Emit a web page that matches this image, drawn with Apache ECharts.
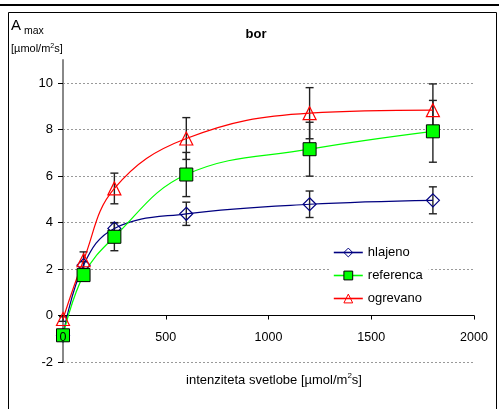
<!DOCTYPE html>
<html>
<head>
<meta charset="utf-8">
<script src="https://cdn.jsdelivr.net/npm/echarts@6/dist/echarts.min.js"></script>
<style>
  html, body { margin: 0; padding: 0; background: #fff; }
  #main { width: 499px; height: 409px; }
</style>
</head>
<body>
<div id="main"></div>
<script>
const FONT = "'Liberation Sans', Arial, sans-serif";

// light intensity (x) and the three treatments
const xValues = [0, 100, 250, 600, 1200, 1800];
const hlajeno = [-0.85, 2.17, 3.75, 4.38, 4.79, 4.96];
const hlajenoErr = [0, 0.15, 0.25, 0.5, 0.57, 0.58];
const referenca = [-0.85, 1.74, 3.39, 6.07, 7.16, 7.93];
const referencaErr = [0, 0.25, 0.6, 0.95, 1.16, 1.33];
const ogrevano = [-0.15, 2.38, 5.47, 7.62, 8.71, 8.84];
const ogrevanoErr = [0.1, 0.36, 0.66, 0.9, 1.1, 1.13];
const yTicks = [-2, 0, 2, 4, 6, 8, 10];
const xTicks = [0, 500, 1000, 1500, 2000];

const chart = echarts.init(document.getElementById("main"));

const pts = (vals) => xValues.map((x, i) => [x, vals[i]]);
const errs = (vals, e) => xValues.map((x, i) => [x, vals[i] - e[i], vals[i] + e[i]]);

function renderErr(params, api) {
  const x = api.value(0);
  const top = api.coord([x, api.value(2)]);
  const bot = api.coord([x, api.value(1)]);
  const st = { stroke: "#222", lineWidth: 1.4 };
  return {
    type: "group",
    children: [
      { type: "line", shape: { x1: top[0], y1: top[1], x2: bot[0], y2: bot[1] }, style: st },
      { type: "line", shape: { x1: top[0] - 4, y1: top[1], x2: top[0] + 4, y2: top[1] }, style: st },
      { type: "line", shape: { x1: bot[0] - 4, y1: bot[1], x2: bot[0] + 4, y2: bot[1] }, style: st },
    ],
  };
}

// x labels sit under the zero line, not under the grid bottom
function renderXLabel(params, api) {
  const v = api.value(0);
  const c = api.coord([v, 0]);
  return {
    type: "text",
    x: c[0],
    y: c[1] + 22,
    style: { text: String(v), align: "center", verticalAlign: "middle", fontFamily: FONT, fontSize: 12.5, fill: "#000" },
  };
}

const errSeries = (name, vals, e) => ({
  name: name + "_err",
  type: "custom",
  renderItem: renderErr,
  data: errs(vals, e),
  encode: { x: 0, y: [1, 2] },
  z: 1,
  silent: true,
});

const option = {
  animation: false,
  backgroundColor: "#fff",
  textStyle: { fontFamily: FONT },
  grid: { left: 63, right: 25, top: 60, bottom: 47, outerBoundsMode: "none" },
  legend: {
    data: ["hlajeno", "referenca", "ogrevano"],
    orient: "vertical",
    left: 329,
    top: 239,
    padding: [6, 6, 6, 4],
    backgroundColor: "#fff",
    itemWidth: 29,
    itemHeight: 11,
    itemGap: 8,
    lineStyle: { width: 1.6 },
    itemStyle: { borderWidth: 1 },
    textStyle: { fontFamily: FONT, fontSize: 13, color: "#000", lineHeight: 15 },
  },
  xAxis: {
    type: "value",
    min: 0,
    max: 2000,
    interval: 500,
    axisLine: { onZero: true, lineStyle: { color: "#000", width: 1 } },
    axisTick: { length: 4, lineStyle: { color: "#000" } },
    axisLabel: { show: false },
    splitLine: { show: false },
  },
  yAxis: {
    type: "value",
    min: -2,
    max: 11,
    interval: 2,
    axisLine: { show: true, onZero: false, lineStyle: { color: "#888", width: 2 } },
    axisTick: { show: true, length: 5, customValues: yTicks, lineStyle: { color: "#000", width: 1 } },
    axisLabel: { margin: 10, fontSize: 13, color: "#000", fontFamily: FONT, customValues: yTicks },
    splitLine: { show: true, lineStyle: { color: "#999", type: [2, 2], width: 1 } },
  },
  series: [
    errSeries("hlajeno", hlajeno, hlajenoErr),
    errSeries("referenca", referenca, referencaErr),
    errSeries("ogrevano", ogrevano, ogrevanoErr),
    {
      name: "hlajeno",
      type: "line",
      data: pts(hlajeno),
      smooth: 0.4,
      clip: false,
      symbol: "diamond",
      symbolSize: 13,
      color: "#000080",
      lineStyle: { color: "#000080", width: 1.2 },
      itemStyle: { color: "rgba(255,255,255,0)", borderColor: "#000080", borderWidth: 1.2 },
    },
    {
      name: "referenca",
      type: "line",
      data: pts(referenca),
      smooth: 0.4,
      clip: false,
      symbol: "rect",
      symbolSize: 13,
      color: "#00ff00",
      lineStyle: { color: "#00ff00", width: 1.2 },
      itemStyle: { color: "#00ff00", borderColor: "#000", borderWidth: 1 },
    },
    {
      name: "ogrevano",
      type: "line",
      data: pts(ogrevano),
      smooth: 0.4,
      clip: false,
      symbol: "triangle",
      symbolSize: 13,
      color: "#ff0000",
      lineStyle: { color: "#ff0000", width: 1.2 },
      itemStyle: { color: "rgba(255,255,255,0)", borderColor: "#ff0000", borderWidth: 1.2 },
    },
    {
      name: "xlabels",
      type: "custom",
      renderItem: renderXLabel,
      data: xTicks.map((v) => [v, 0]),
      encode: { x: 0, y: 1 },
      z: 10,
      silent: true,
    },
  ],
  graphic: [
    { type: "line", shape: { x1: 0, y1: 5, x2: 499, y2: 5 }, style: { stroke: "#000", lineWidth: 2 } },
    { type: "rect", shape: { x: 8.5, y: 12.5, width: 488, height: 420 }, style: { fill: "none", stroke: "#000", lineWidth: 1 } },
    { type: "text", x: 256, y: 34, style: { text: "bor", fontFamily: FONT, fontSize: 13, fontWeight: "bold", fill: "#000", align: "center", verticalAlign: "middle" } },
    { type: "text", x: 11, y: 26, style: { text: "A", fontFamily: FONT, fontSize: 15, fill: "#000", verticalAlign: "middle" } },
    { type: "text", x: 24, y: 31, style: { text: "max", fontFamily: FONT, fontSize: 10.5, fill: "#000", verticalAlign: "middle" } },
    {
      type: "text", x: 11, y: 49,
      style: {
        text: "{n|[µmol/m}{s|2}{n|s]}", verticalAlign: "middle",
        rich: {
          n: { fontFamily: FONT, fontSize: 11, fill: "#000", lineHeight: 13 },
          s: { fontFamily: FONT, fontSize: 7, fill: "#000", verticalAlign: "top", lineHeight: 13 },
        },
      },
    },
    {
      type: "text", x: 274, y: 380,
      style: {
        text: "{n|intenziteta svetlobe [µmol/m}{s|2}{n|s]}", align: "center", verticalAlign: "middle",
        rich: {
          n: { fontFamily: FONT, fontSize: 13, fill: "#000", lineHeight: 16 },
          s: { fontFamily: FONT, fontSize: 8, fill: "#000", verticalAlign: "top", lineHeight: 16 },
        },
      },
    },
  ],
};

chart.setOption(option);
</script>
</body>
</html>
